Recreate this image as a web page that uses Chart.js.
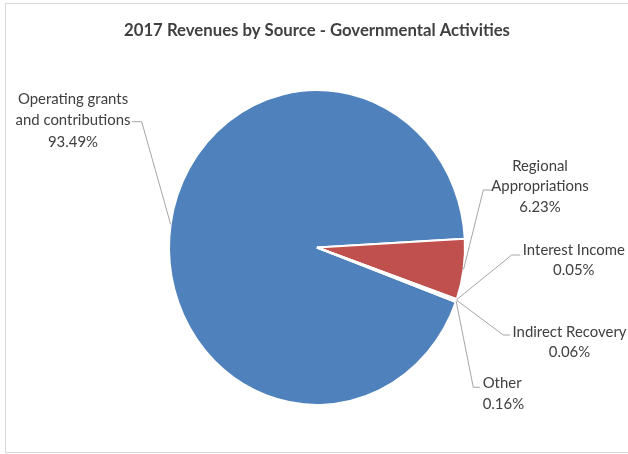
<!DOCTYPE html>
<html><head><meta charset="utf-8">
<script src="https://cdn.jsdelivr.net/npm/chart.js@4.4.0/dist/chart.umd.min.js"></script>
<style>html,body{margin:0;padding:0;background:#fff;overflow:hidden}#wrap{width:628px;height:454px;position:relative}</style>
</head><body><div id="wrap"><canvas id="c" width="628" height="454"></canvas></div>
<script>
const categories = ["Operating grants and contributions","Regional Appropriations","Interest Income","Indirect Recovery","Other"];
const labelLines = [["Operating grants","and contributions"],["Regional","Appropriations"],["Interest Income"],["Indirect Recovery"],["Other"]];
const shares = [93.49, 6.23, 0.05, 0.06, 0.16];
const sliceColors = ["#4F81BD","#C0504D","#9BBB59","#8064A2","#4BACC6"];
const titleText = "2017 Revenues by Source - Governmental Activities";

// layout of the manually placed data labels (positions only)
const labelLayout = [
  {align:'center', x:73,    y:[99.3,120.5,141.7], elbow:[[132,121.7],[141.7,121.7]]},
  {align:'center', x:540,   y:[166,186.3,206.7],  elbow:[[491.7,190],[483.3,190]]},
  {align:'center', x:573.8, y:[250,270],          elbow:[[520,255],[511.7,255]]},
  {align:'center', x:569.5, y:[331.7,351.7],      elbow:[[510,335],[503.3,335]]},
  {align:'left',   x:482.7, y:[383.3,404],        elbow:[[480,387.3],[473.3,387.3]]}
];

const FAMILY = "Lato, 'Open Sans', 'Liberation Sans', sans-serif";
const mctx = document.createElement('canvas').getContext('2d');
function fit(text, weight, target){ mctx.font = weight+" 100px "+FAMILY; return 100*target/mctx.measureText(text).width; }
const labelSize = fit("Interest Income","normal",102);
const titleSize = fit(titleText,"bold",386);
const titleCenterY = 30.7, plotTop = 98.5;
const titlePadTop = titleCenterY - 0.6*titleSize;
const titlePadBottom = plotTop - titlePadTop - 1.2*titleSize;
const RX = 148, RY = 157.5; // radii of the (slightly stretched) pie

const framePlugin = {
  id:'frame',
  beforeDraw(chart){
    const ctx = chart.ctx;
    ctx.save();
    ctx.fillStyle = '#fff'; ctx.fillRect(0,0,chart.width,chart.height);
    ctx.strokeStyle = '#d9d9d9'; ctx.lineWidth = 1;
    ctx.strokeRect(5.5,3.5,700,449);
    ctx.restore();
  },
  beforeDatasetsDraw(chart){
    const arc = chart.getDatasetMeta(0).data[0];
    const k = RY/arc.outerRadius;
    const ctx = chart.ctx;
    ctx.save();
    ctx.translate(arc.x, arc.y); ctx.scale(1,k); ctx.translate(-arc.x,-arc.y);
  },
  afterDatasetsDraw(chart){
    chart.ctx.restore();
    const ctx = chart.ctx;
    const arcs = chart.getDatasetMeta(0).data;
    ctx.save();
    ctx.font = "normal "+labelSize.toFixed(2)+"px "+FAMILY;
    ctx.textBaseline = 'middle';
    arcs.forEach((a,i)=>{
      const L = labelLayout[i];
      const k = RY/a.outerRadius;
      const mid = (a.startAngle+a.endAngle)/2;
      const ex = a.x + a.outerRadius*Math.cos(mid);
      const ey = a.y + k*a.outerRadius*Math.sin(mid);
      ctx.strokeStyle = '#a6a6a6'; ctx.lineWidth = 1;
      ctx.beginPath();
      ctx.moveTo(L.elbow[0][0], L.elbow[0][1]);
      ctx.lineTo(L.elbow[1][0], L.elbow[1][1]);
      ctx.lineTo(ex, ey);
      ctx.stroke();
      const lines = labelLines[i].concat([shares[i].toFixed(2)+"%"]);
      ctx.fillStyle = '#404040';
      ctx.textAlign = L.align;
      lines.forEach((t,j)=>ctx.fillText(t, L.x, L.y[j]));
    });
    ctx.restore();
  }
};

new Chart(document.getElementById('c'), {
  type:'pie',
  data:{ labels: categories, datasets:[{ data: shares, backgroundColor: sliceColors, borderColor:'#ffffff', borderWidth:2, hoverOffset:0, hoverBorderWidth:2, radius: RX }]},
  options:{
    responsive:false, animation:false, devicePixelRatio: window.devicePixelRatio||1,
    rotation: 110.2,
    layout:{ padding:{ left:6, right:0, top:0, bottom:57.5 } },
    plugins:{
      legend:{display:false}, tooltip:{enabled:false},
      title:{ display:true, text: titleText, color:'#404040',
        font:{ family: FAMILY, size: titleSize, weight:'bold', lineHeight:1.2 },
        padding:{ top: titlePadTop, bottom: titlePadBottom } }
    },
    events:[]
  },
  plugins:[framePlugin]
});
</script></body></html>
